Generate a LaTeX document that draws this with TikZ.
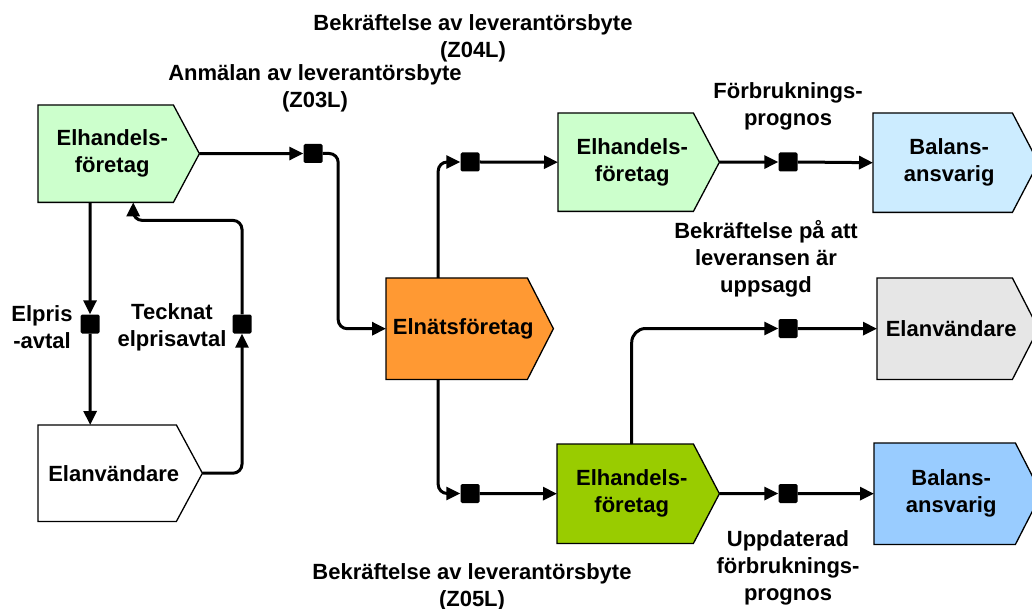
\documentclass[tikz,border=0pt]{standalone}
\usepackage{fontspec}
\setmainfont{Liberation Sans}
\usetikzlibrary{arrows.meta,backgrounds,calc}
\definecolor{lgreen}{HTML}{CCFFCC}
\definecolor{orangebox}{HTML}{FF9933}
\definecolor{lblue}{HTML}{CCECFF}
\definecolor{lgray}{HTML}{E6E6E6}
\definecolor{dgreen}{HTML}{99CC00}
\definecolor{mblue}{HTML}{99CCFF}
\begin{document}
\begin{tikzpicture}[x=1pt,y=-1pt,
  body/.style={rectangle, draw=none, inner sep=0pt, anchor=north west},
  txt/.style={font=\fontsize{22}{27}\selectfont\bfseries, align=center, inner sep=0pt},
  sq/.style={rectangle, fill=black, draw=none, minimum size=19pt, inner sep=0pt, rounded corners=1.5pt},
  conn/.style={line width=3pt, rounded corners=9pt, -{Triangle[length=14pt,width=13pt]}},
  outline/.style={draw=black, line width=1.3pt, line join=miter},
]
\useasboundingbox (0,0) rectangle (1032,609);

% boxes
\node[body, minimum width=135pt, minimum height=97pt, label={[txt,xshift=6.5pt]center:Elhandels-\\företag}] (e1) at (38,105) {};
\node[body, minimum width=138pt, minimum height=96pt, label={[txt,xshift=6.5pt]center:Elanvändare}] (elanv) at (38,425) {};
\node[body, minimum width=141pt, minimum height=101pt, label={[txt,xshift=6.5pt]center:Elnätsföretag}] (elnat) at (386,278) {};
\node[body, minimum width=135pt, minimum height=98pt, label={[txt,xshift=6.5pt]center:Elhandels-\\företag}] (e2) at (558,113) {};
\node[body, minimum width=139pt, minimum height=99pt, label={[txt,xshift=6.5pt]center:Balans-\\ansvarig}] (bal1) at (873,113) {};
\node[body, minimum width=135pt, minimum height=101pt, label={[txt,xshift=6.5pt]center:Elanvändare}] (gray) at (877,278) {};
\node[body, minimum width=136pt, minimum height=99pt, label={[txt,xshift=6.5pt]center:Elhandels-\\företag}] (e3) at (557,444) {};
\node[body, minimum width=141pt, minimum height=101pt, label={[txt,xshift=6.5pt]center:Balans-\\ansvarig}] (bal2) at (874,443) {};

\begin{scope}[on background layer]
\foreach \n/\c in {e1/lgreen, elanv/white, elnat/orangebox, e2/lgreen, bal1/lblue, gray/lgray, e3/dgreen, bal2/mblue}
  \draw[outline, fill=\c] (\n.north west) -- (\n.north east) -- ([xshift=26pt]\n.east) -- (\n.south east) -- (\n.south west) -- cycle;
\end{scope}

% squares
\node[sq] (q1) at (313,153.5) {};
\node[sq] (q2) at (470,162) {};
\node[sq] (q3) at (788,162) {};
\node[sq] (q4) at (788,328.5) {};
\node[sq] (q5) at (470,493.5) {};
\node[sq] (q6) at (788,493.5) {};
\node[sq] (q7) at (90,324) {};
\node[sq] (q8) at (242,324) {};

% connectors
\draw[conn] ([xshift=26pt]e1.east) -- (q1.west);
\draw[conn] (q1.east) -- ++(15.5,0) |- (elnat.west);
\draw[conn] ([xshift=-18.5pt]elnat.north) |- (q2.west);
\draw[conn] (q2.east) -- (e2.west);
\draw[conn] ([xshift=26pt]e2.east) -- (q3.west);
\draw[conn] (q3.east) -- (bal1.west);
\draw[conn] ([xshift=-18.5pt]elnat.south) |- (q5.west);
\draw[conn] (q5.east) -- (e3.west);
\draw[conn] ([xshift=26pt]e3.east) -- (q6.west);
\draw[conn] (q6.east) -- (bal2.west);
\draw[conn, rounded corners=14pt] ([xshift=6.5pt]e3.north) |- (q4.west);
\draw[conn] (q4.east) -- (gray.west);
\draw[conn] ([xshift=-15.5pt]e1.south) -- (q7.north);
\draw[conn] (q7.south) -- ([xshift=-17pt]elanv.north);
\draw[conn] ([xshift=26pt]elanv.east) -| (q8.south);
\draw[conn] (q8.north) |- ($(e1.south)+(27.5,18)$) [rounded corners=4pt] -- ([xshift=27.5pt]e1.south);

% labels
\node[txt] (t1) at (473,38) {Bekräftelse av leverantörsbyte\\(Z04L)};
\node[txt] (t2) at (315,88.5) {Anmälan av leverantörsbyte\\(Z03L)};
\node[txt] (t3) at (788,106) {Förbruknings-\\prognos};
\node[txt] (t4) at (766,259) {Bekräftelse på att\\leveransen är\\uppsagd};
\node[txt] (t5) at (42,327) {Elpris\\-avtal};
\node[txt] (t6) at (172,327) {Tecknat\\elprisavtal};
\node[txt] (t7) at (472,587) {Bekräftelse av leverantörsbyte\\(Z05L)};
\node[txt] (t8) at (788,568) {Uppdaterad\\förbruknings-\\prognos};
\end{tikzpicture}
\end{document}
